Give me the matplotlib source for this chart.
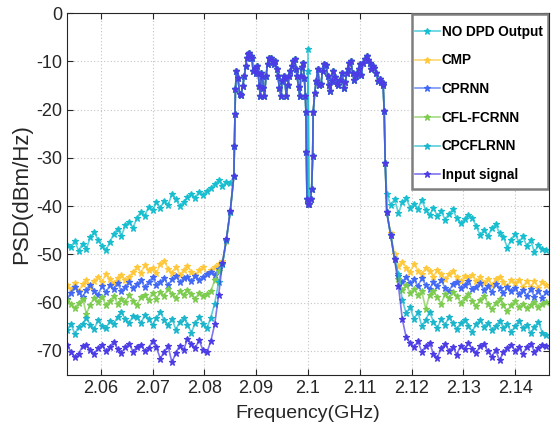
import numpy as np
import matplotlib
matplotlib.use("Agg")
import matplotlib.pyplot as plt
from matplotlib.patches import Rectangle

plt.rcParams['font.family'] = ['Liberation Sans', 'DejaVu Sans']
plt.rcParams['axes.unicode_minus'] = False

labels = ["NO DPD Output", "CMP", "CPRNN", "CFL-FCRNN", "CPCFLRNN", "Input signal"]
colors = ["#17becf", "#ffc83a", "#4169f5", "#7dcc4f", "#1bb6cc", "#4b3ce6"]

# frequency grids (GHz) for the out-of-band parts
f_left = 2.0535 + 0.00075 * np.arange(43)
f_right = 2.1152 + 0.00075 * np.arange(42)

# in-band part, shared by all traces
f_band = [2.0857, 2.0858, 2.0859, 2.0860, 2.0862, 2.0865, 2.0868, 2.0871, 2.0874, 2.0877,
          2.0880, 2.0882, 2.0885, 2.0887, 2.0890, 2.0892, 2.0894, 2.0897, 2.0899, 2.0902,
          2.0904, 2.0906, 2.0908, 2.0910, 2.0912, 2.0914, 2.0916, 2.0919, 2.0922, 2.0924,
          2.0927, 2.0929, 2.0932, 2.0934, 2.0937, 2.0940, 2.0942, 2.0945, 2.0948, 2.0950,
          2.0953, 2.0955, 2.0958, 2.0961, 2.0964, 2.0966, 2.0969, 2.0971, 2.0974, 2.0977,
          2.0979, 2.0982, 2.0984, 2.0986, 2.0988, 2.0990, 2.0993, 2.0995, 2.0996, 2.0997,
          2.0998, 2.1000, 2.1002, 2.1005, 2.1007, 2.1009, 2.1010, 2.1013, 2.1016, 2.1019,
          2.1022, 2.1025, 2.1028, 2.1031, 2.1035, 2.1038, 2.1040, 2.1043, 2.1046, 2.1049,
          2.1052, 2.1055, 2.1058, 2.1062, 2.1066, 2.1069, 2.1072, 2.1075, 2.1077, 2.1080,
          2.1083, 2.1086, 2.1089, 2.1092, 2.1095, 2.1098, 2.1100, 2.1103, 2.1106, 2.1110,
          2.1113, 2.1116, 2.1119, 2.1122, 2.1125, 2.1128, 2.1132, 2.1135, 2.1138, 2.1141,
          2.1144, 2.1145, 2.1147, 2.1149]
psd_band = [-33.7, -27.5, -21.0, -15.8, -12.0, -13.5, -16.8, -17.0, -15.2, -13.1,
            -11.0, -9.3, -8.5, -8.2, -9.0, -9.3, -12.0, -11.4, -12.4, -11.0,
            -12.5, -15.1, -17.2, -12.4, -13.0, -15.5, -17.2, -13.0, -10.6, -9.3,
            -9.6, -9.3, -10.2, -10.6, -10.0, -11.6, -13.1, -15.6, -17.2, -14.0,
            -13.1, -13.4, -17.2, -15.0, -13.1, -12.0, -11.0, -10.0, -9.6, -11.5,
            -13.1, -15.4, -17.2, -13.1, -11.2, -10.3, -13.5, -17.2, -20.6, -28.9,
            -38.5, -39.6, -39.6, -38.5, -36.5, -29.6, -20.6, -16.5, -14.0, -11.7,
            -15.0, -14.8, -12.0, -10.6, -10.8, -13.0, -15.0, -16.1, -14.0, -12.0,
            -13.2, -14.6, -15.0, -13.8, -12.4, -15.5, -14.2, -12.5, -11.7, -10.3,
            -10.0, -12.4, -13.9, -13.0, -12.4, -11.6, -10.6, -12.8, -10.3, -9.6,
            -8.9, -9.8, -10.3, -11.7, -11.0, -11.4, -12.5, -14.0, -13.6, -14.3,
            -14.5, -15.0, -20.3, -31.0]
center_idx = 61
center_psd = [-7.5, -39.6, -39.6, -39.6, -12.0, -39.6]

left = {
    "NO DPD Output": [-48.0, -48.5, -47.2, -49.3, -47.8, -48.8, -46.5, -45.4, -47.0, -48.2,
                      -49.2, -47.5, -45.8, -44.7, -46.2, -44.0, -43.3, -44.5, -42.4, -41.2,
                      -42.0, -40.2, -40.9, -39.2, -40.4, -38.9, -39.8, -37.5, -38.6, -40.0,
                      -39.2, -38.2, -37.5, -38.3, -37.0, -37.8, -36.8, -36.2, -35.4, -34.7,
                      -35.8, -35.0, -35.3],
    "CMP": [-56.4, -57.1, -56.0, -57.6, -56.2, -55.4, -56.8, -55.6, -54.6, -55.8,
            -54.0, -55.2, -56.0, -55.0, -54.3, -55.3, -54.7, -53.6, -52.6, -53.8,
            -52.3, -53.3, -52.8, -53.9, -52.0, -51.3, -53.0, -53.8, -52.6, -54.2,
            -53.3, -52.4, -53.6, -54.2, -53.3, -52.6, -54.0, -53.2, -52.6, -52.0,
            -51.4, -47.2, -41.0],
    "CPRNN": [-59.2, -58.0, -56.7, -57.8, -58.9, -57.3, -56.4, -57.5, -58.4, -56.6,
              -57.9, -56.4, -57.2, -56.0, -57.6, -56.7, -55.8, -57.0, -56.2, -55.4,
              -56.8, -55.7, -54.8, -56.3, -55.7, -55.0, -56.4, -55.2, -54.4, -55.8,
              -55.0, -54.6, -55.6, -54.4, -55.3, -54.8, -54.0, -53.6, -54.2, -53.0,
              -52.0, -47.0, -41.0],
    "CFL-FCRNN": [-59.5, -60.3, -61.2, -60.0, -59.2, -62.3, -60.4, -59.0, -59.8, -58.9,
                  -60.5, -59.6, -58.7, -60.2, -59.3, -59.9, -58.4, -59.6, -60.6, -58.9,
                  -58.5, -59.4, -58.0, -59.2, -57.8, -58.6, -57.1, -58.2, -59.0, -57.6,
                  -58.4, -57.3, -58.2, -59.2, -58.0, -58.6, -58.2, -57.6, -55.4, -53.5,
                  -51.8, -47.0, -41.2],
    "CPCFLRNN": [-65.7, -64.4, -66.5, -65.0, -64.4, -63.2, -64.6, -65.4, -63.7, -64.8,
                 -65.3, -63.9, -64.4, -63.0, -61.9, -63.5, -64.2, -62.8, -63.0, -64.3,
                 -62.6, -63.4, -64.7, -63.2, -61.9, -63.6, -64.7, -63.3, -65.6, -64.0,
                 -63.1, -64.6, -66.2, -64.2, -63.0, -64.4, -65.3, -63.1, -60.2, -55.8,
                 -52.0, -47.0, -41.2],
    "Input signal": [-68.8, -70.2, -71.3, -70.6, -69.0, -68.8, -69.8, -70.6, -69.4, -68.8,
                     -70.1, -69.2, -68.1, -69.6, -70.4, -69.3, -68.5, -70.2, -69.1, -68.8,
                     -70.0, -69.5, -67.9, -69.3, -71.6, -70.2, -69.0, -72.4, -70.4, -68.9,
                     -69.8, -67.5, -68.6, -69.4, -67.8, -69.9, -70.3, -68.0, -64.5, -58.5,
                     -51.8, -46.8, -41.0],
}

right = {
    "NO DPD Output": [-37.5, -39.8, -38.6, -41.5, -39.2, -38.4, -40.3, -39.6, -40.6, -38.7,
                      -40.8, -41.9, -40.4, -42.0, -41.1, -42.8, -41.6, -40.7, -42.5, -43.6,
                      -42.7, -41.8, -42.4, -44.2, -46.0, -45.0, -46.3, -44.6, -43.8, -45.6,
                      -46.4, -48.6, -47.0, -45.7, -47.5, -46.3, -48.2, -47.1, -49.6, -48.0,
                      -48.8, -49.2],
    "CMP": [-41.3, -45.5, -50.0, -52.4, -51.5, -52.8, -53.6, -52.0, -53.4, -54.1,
            -52.8, -53.5, -54.6, -53.2, -54.0, -55.2, -54.1, -53.4, -54.8, -55.5,
            -54.4, -55.0, -54.2, -55.6, -54.8, -55.9, -55.1, -56.4, -55.2, -54.6,
            -55.8, -56.6, -55.4, -56.0, -55.3, -56.7, -55.5, -56.8, -55.6, -56.9,
            -55.8, -56.3],
    "CPRNN": [-41.3, -46.0, -51.0, -54.5, -55.8, -54.6, -56.0, -55.2, -56.6, -55.0,
              -56.3, -57.1, -55.8, -56.5, -55.4, -56.9, -57.6, -56.2, -55.7, -57.0,
              -56.4, -55.6, -57.2, -56.7, -55.9, -57.4, -56.6, -57.8, -56.2, -57.0,
              -58.1, -56.8, -57.5, -56.9, -58.3, -57.4, -58.6, -57.2, -58.8, -57.6,
              -59.0, -57.9],
    "CFL-FCRNN": [-41.3, -46.0, -51.0, -55.2, -57.4, -56.3, -58.0, -57.1, -58.5, -57.6,
                  -61.3, -58.4, -57.6, -58.9, -60.3, -58.2, -59.0, -57.8, -58.7, -60.0,
                  -59.1, -58.3, -59.6, -60.8, -59.4, -58.6, -60.2, -61.4, -60.0, -59.3,
                  -60.6, -61.8, -60.4, -59.7, -61.0, -60.3, -61.2, -60.5, -59.8, -60.9,
                  -60.2, -59.8],
    "CPCFLRNN": [-41.3, -46.0, -51.0, -54.0, -59.5, -62.2, -61.0, -63.4, -62.0, -64.8,
                 -63.6, -61.9, -64.0, -65.2, -63.5, -64.6, -63.0, -64.3, -65.5, -64.2,
                 -63.6, -64.9, -66.0, -64.4, -63.7, -65.0, -64.2, -65.6, -64.8, -63.9,
                 -65.2, -64.5, -66.1, -64.9, -63.8, -65.3, -64.6, -66.4, -65.1, -64.0,
                 -66.2, -66.8],
    "Input signal": [-41.3, -46.0, -51.0, -56.5, -63.5, -67.2, -68.4, -69.3, -68.0, -70.2,
                     -69.0, -68.3, -70.6, -71.4, -69.5, -68.6, -70.0, -69.2, -70.8, -68.9,
                     -69.7, -68.4, -69.6, -70.4, -69.0, -68.6, -70.1, -71.2, -69.8, -72.0,
                     -70.3, -69.4, -68.7, -70.0, -69.3, -70.7, -69.1, -68.5, -70.2, -69.4,
                     -68.8, -69.0],
}

fig = plt.figure(figsize=(5.55, 4.34), dpi=100)
ax = fig.add_axes([0.1207, 0.136, 0.8685, 0.834])

for i, name in enumerate(labels):
    band = list(psd_band)
    band[center_idx] = center_psd[i]
    f = np.concatenate([f_left, f_band, f_right])
    p = np.concatenate([left[name], band, right[name]])
    rgb = matplotlib.colors.to_rgb(colors[i])
    ax.plot(f, p, color=rgb + (0.7,), lw=1.2, marker='*', ms=4.5,
            mec=rgb, mfc=rgb, mew=0.9, label=name)

ax.set_xlim(2.0535, 2.1465)
ax.set_ylim(-75, 0)
ax.set_xticks([2.06, 2.07, 2.08, 2.09, 2.10, 2.11, 2.12, 2.13, 2.14])
ax.set_xticklabels(["2.06", "2.07", "2.08", "2.09", "2.1", "2.11", "2.12", "2.13", "2.14"])
ax.set_yticks([0, -10, -20, -30, -40, -50, -60, -70])
ax.grid(True, ls=(0, (1, 2)), color='#c4c4c4', lw=0.8)
ax.tick_params(direction='in', top=True, right=True, labelsize=13, colors='#262626', length=4)
for s in ax.spines.values():
    s.set_color('#262626')
ax.set_xlabel("Frequency(GHz)", fontsize=14, color='#262626', labelpad=6)
ax.set_ylabel("PSD(dBm/Hz)", fontsize=16, color='#262626', labelpad=3)

# legend box drawn by hand so the padding can match the original
ax.add_patch(Rectangle((0.716, 0.514), 0.282, 0.483, transform=ax.transAxes,
                       facecolor='white', edgecolor='#7f7f7f', lw=1.8, zorder=4))
leg = ax.legend(loc='upper left', bbox_to_anchor=(0.721, 0.968), frameon=False,
                borderaxespad=0, borderpad=0, prop={'weight': 'bold', 'size': 9.8},
                labelspacing=1.08, handlelength=1.9, handletextpad=0.1)
leg.set_zorder(5)

fig.savefig("out.png", dpi=100)
